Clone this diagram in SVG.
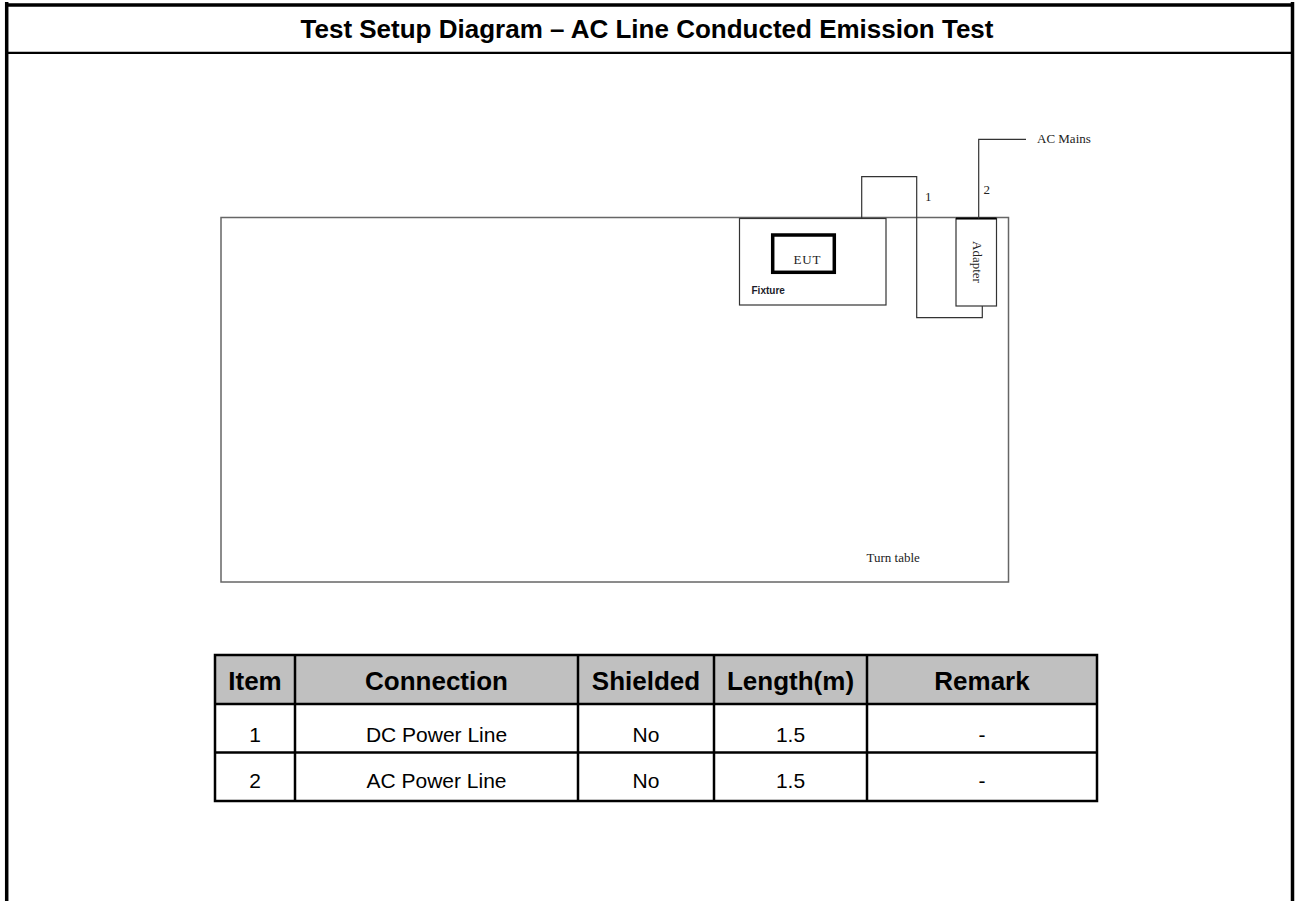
<svg xmlns="http://www.w3.org/2000/svg" width="1295" height="901" viewBox="0 0 1295 901">
<style>
.frame{stroke:#000;fill:none}
.title{font-family:"Liberation Sans",Arial,sans-serif;font-weight:bold;font-size:26px;fill:#000;text-anchor:middle}
.serif{font-family:"Liberation Serif","Times New Roman",serif;font-size:13px;fill:#222}
.th{font-family:"Liberation Sans",Arial,sans-serif;font-weight:bold;font-size:26px;fill:#000;text-anchor:middle}
.td{font-family:"Liberation Sans",Arial,sans-serif;font-size:21px;fill:#000;text-anchor:middle}
.grid{stroke:#000;stroke-width:2.5;fill:none}
.wire{stroke:#333;stroke-width:1.2;fill:none}
</style>
<rect x="0" y="0" width="1295" height="901" fill="#fff"/>
<g id="frame">
<line class="frame" x1="5" y1="5" x2="1294" y2="5" stroke-width="3.5"/>
<line class="frame" x1="6.7" y1="2" x2="6.7" y2="901" stroke-width="3.5"/>
<line class="frame" x1="1292.5" y1="2" x2="1292.5" y2="901" stroke-width="3.5"/>
<line class="frame" x1="5" y1="52.8" x2="1294" y2="52.8" stroke-width="2.3"/>
<text class="title" x="647" y="38">Test Setup Diagram – AC Line Conducted Emission Test</text>
</g>
<g id="turntable">
<rect x="221" y="217.5" width="787.5" height="364.5" fill="none" stroke="#666" stroke-width="1.5"/>
<text class="serif" x="866.5" y="562" font-size="13">Turn table</text>
</g>
<g id="fixture">
<rect x="739.5" y="218.5" width="146.5" height="86.5" fill="#fff" stroke="#333" stroke-width="1.2"/>
<text x="751.5" y="294" font-family="'Liberation Sans',Arial,sans-serif" font-weight="bold" font-size="10px" fill="#1c1c2a">Fixture</text>
</g>
<g id="eut">
<rect x="772.7" y="235" width="61.6" height="37.3" fill="#fff" stroke="#000" stroke-width="3.5"/>
<text class="serif" x="793.5" y="263.5" letter-spacing="0.8">EUT</text>
</g>
<g id="adapter">
<rect x="956" y="218.5" width="40.5" height="87.5" fill="#fff" stroke="#333" stroke-width="1.2"/>
<line x1="956" y1="218.5" x2="996.5" y2="218.5" stroke="#000" stroke-width="2"/>
<text class="serif" x="0" y="0" text-anchor="middle" transform="translate(972.5 262) rotate(90)">Adapter</text>
</g>
<g id="acmains">
<text class="serif" x="1037" y="143">AC Mains</text>
</g>
<g id="connectors">
<polyline class="wire" points="861.7,218.5 861.7,176.7 916.7,176.7 916.7,317.7 982.3,317.7 982.3,306"/>
<polyline class="wire" points="978.7,218.5 978.7,139.3 1026,139.3"/>
<text class="serif" x="925" y="201">1</text>
<text class="serif" x="983.5" y="194">2</text>
</g>
<g id="table">
<rect x="215" y="655" width="882" height="49" fill="#c0c0c0"/>
<rect class="grid" x="215" y="655" width="882" height="146"/>
<line class="grid" x1="215" y1="704" x2="1097" y2="704"/>
<line class="grid" x1="215" y1="752.5" x2="1097" y2="752.5"/>
<line class="grid" x1="295" y1="655" x2="295" y2="801"/>
<line class="grid" x1="578" y1="655" x2="578" y2="801"/>
<line class="grid" x1="714" y1="655" x2="714" y2="801"/>
<line class="grid" x1="867" y1="655" x2="867" y2="801"/>
<text class="th" x="255" y="690">Item</text>
<text class="th" x="436.5" y="690">Connection</text>
<text class="th" x="646" y="690">Shielded</text>
<text class="th" x="790.5" y="690">Length(m)</text>
<text class="th" x="982" y="690">Remark</text>
<text class="td" x="255" y="741.5">1</text>
<text class="td" x="436.5" y="741.5">DC Power Line</text>
<text class="td" x="646" y="741.5">No</text>
<text class="td" x="790.5" y="741.5">1.5</text>
<text class="td" x="982" y="741.5">-</text>
<text class="td" x="255" y="788">2</text>
<text class="td" x="436.5" y="788">AC Power Line</text>
<text class="td" x="646" y="788">No</text>
<text class="td" x="790.5" y="788">1.5</text>
<text class="td" x="982" y="788">-</text>
</g>
</svg>
